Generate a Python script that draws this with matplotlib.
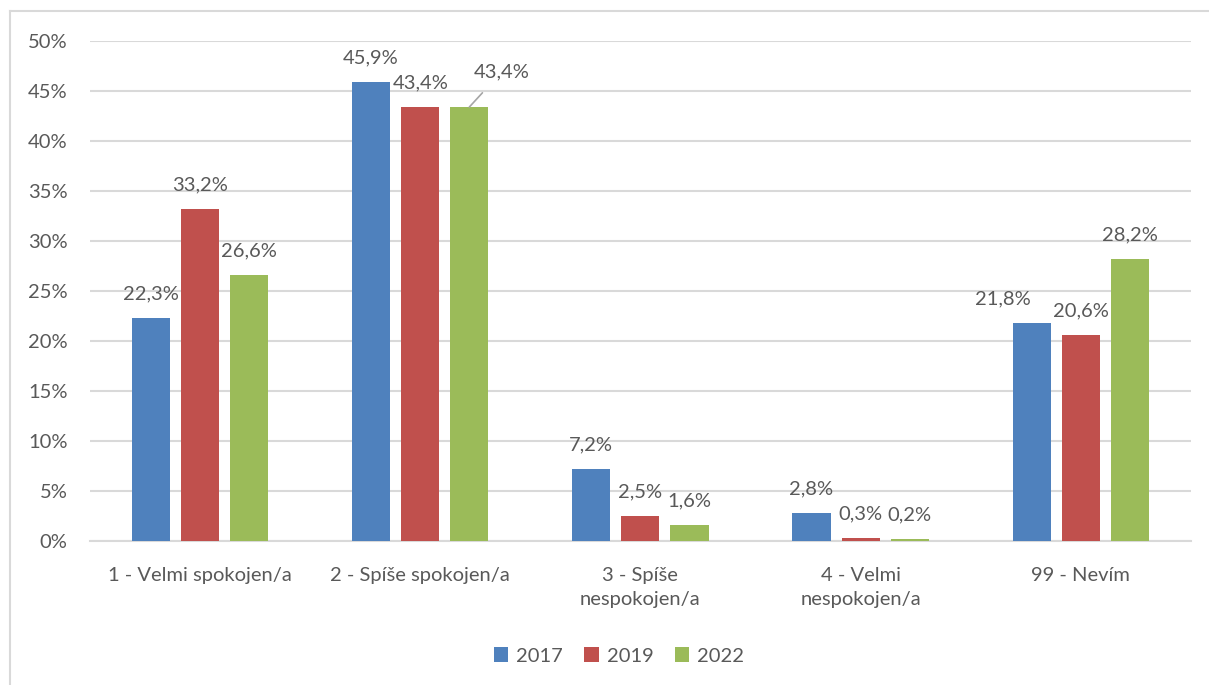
import numpy as np
import matplotlib.pyplot as plt
from matplotlib.lines import Line2D

categories = ['1 - Velmi spokojen/a', '2 - Spíše spokojen/a', '3 - Spíše\nnespokojen/a',
              '4 - Velmi\nnespokojen/a', '99 - Nevím']
years = ['2017', '2019', '2022']
v2017 = [22.3, 45.9, 7.2, 2.8, 21.8]
v2019 = [33.2, 43.4, 2.5, 0.3, 20.6]
v2022 = [26.6, 43.4, 1.6, 0.2, 28.2]
colors = ['#4F81BD', '#C0504D', '#9BBB59']

plt.rcParams['font.family'] = ['Lato', 'DejaVu Sans']
text_color = '#595959'
grid_color = '#D9D9D9'
fs = 14.5

fig = plt.figure(figsize=(12.09, 6.85), dpi=100)
ax = fig.add_axes([0.0744, 0.2102, 0.9106, 0.7299])

x = np.arange(len(categories))
width = 0.173
step = 0.223
series = [v2017, v2019, v2022]

for i, (vals, col, yr) in enumerate(zip(series, colors, years)):
    pos = x + (i - 1) * step
    ax.bar(pos, np.array(vals) / 100, width, color=col, label=yr, zorder=3)
    for j, (px, v) in enumerate(zip(pos, vals)):
        label = f'{v:.1f}%'.replace('.', ',')
        dx, dy = 0, 17.5
        if i == 0 and j == 4:
            dx = -21
        if i == 2 and j == 1:
            # moved label with a leader line back to the bar
            ax.annotate(label, xy=(px, v / 100), xytext=(23, 25), textcoords='offset points',
                        ha='center', va='center', fontsize=fs, color=text_color,
                        arrowprops=dict(arrowstyle='-', color='#A6A6A6', lw=1.2,
                                        shrinkA=9, shrinkB=0))
            continue
        ax.annotate(label, xy=(px, v / 100), xytext=(dx, dy), textcoords='offset points',
                    ha='center', va='center', fontsize=fs, color=text_color)

ax.set_xlim(-0.5, len(categories) - 0.5)
ax.set_ylim(0, 0.5)
ax.set_yticks(np.arange(0, 0.51, 0.05))
ax.set_yticklabels([f'{int(round(t * 100))}%' for t in np.arange(0, 0.51, 0.05)])
ax.set_xticks(x)
ax.set_xticklabels(categories, linespacing=1.45)
ax.tick_params(axis='both', length=0, labelsize=fs, labelcolor=text_color)
ax.tick_params(axis='y', pad=16)
ax.tick_params(axis='x', pad=19)

ax.grid(axis='y', color=grid_color, linewidth=1.5, zorder=0)
for side in ['top', 'right', 'left']:
    ax.spines[side].set_visible(False)
ax.spines['bottom'].set_color(grid_color)
ax.spines['bottom'].set_linewidth(1.5)

ax.legend(loc='center', bbox_to_anchor=(0.512, 0.0423), bbox_transform=fig.transFigure,
          ncol=3, frameon=False, fontsize=fs, labelcolor=text_color,
          handlelength=0.72, handleheight=0.72, handletextpad=0.4, columnspacing=1.05)

# chart area border
fig.add_artist(Line2D([0.0083, 0.0083], [0, 0.984], color=grid_color, lw=1.5,
                      transform=fig.transFigure))
fig.add_artist(Line2D([0.0083, 1], [0.984, 0.984], color=grid_color, lw=1.5,
                      transform=fig.transFigure))

fig.savefig('out.png', dpi=100)
